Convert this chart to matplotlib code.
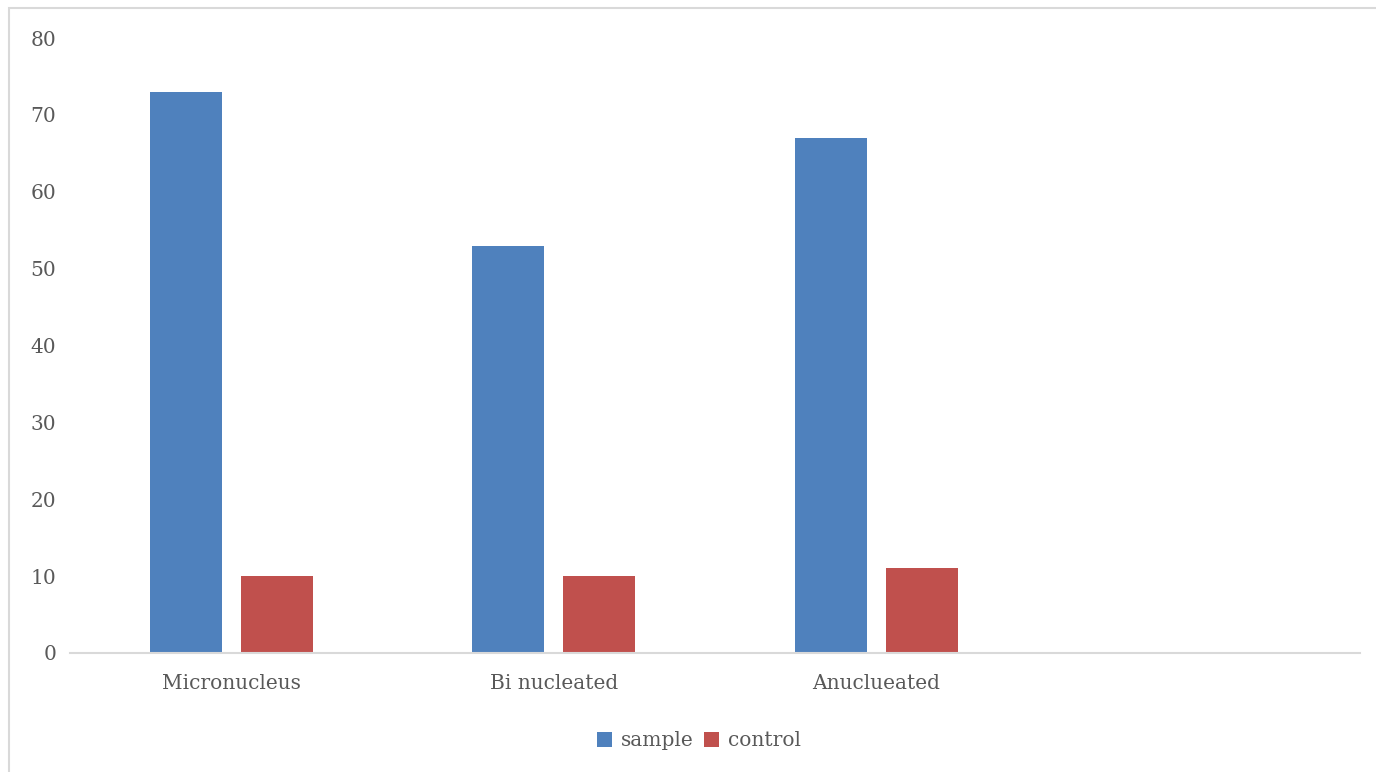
import numpy as np
import matplotlib.pyplot as plt
from matplotlib.patches import Rectangle

categories = ["Micronucleus", "Bi nucleated", "Anuclueated", ""]
sample = [73, 53, 67, np.nan]
control = [10, 10, 11, np.nan]

plt.rcParams["font.family"] = ["DejaVu Serif"]

fig = plt.figure(figsize=(13.76, 7.72), dpi=100)
ax = fig.add_axes([70 / 1376, 1 - 653 / 772, (1360 - 70) / 1376, (653 - 38) / 772])

x = np.arange(len(categories))
width = 0.224
offset = (width + 19 / 322.5) / 2
ax.bar(x - offset, sample, width, color="#4f81bd", label="sample")
ax.bar(x + offset, control, width, color="#c0504d", label="control")

ax.set_xlim(-0.5, len(categories) - 0.5)
ax.set_ylim(0, 80)
ax.set_yticks(range(0, 81, 10))
ax.set_xticks(x)
ax.set_xticklabels(categories)
ax.tick_params(axis="both", length=0, labelsize=14.5, colors="#595959")
ax.tick_params(axis="y", pad=10)
ax.tick_params(axis="x", pad=15)

for side in ["top", "right", "left"]:
    ax.spines[side].set_visible(False)
ax.spines["bottom"].set_color("#d9d9d9")
ax.spines["bottom"].set_linewidth(1.5)

leg = ax.legend(loc="center", bbox_to_anchor=(0.4876, -0.143), ncol=2, frameon=False,
                fontsize=14.5, handlelength=0.72, handleheight=0.72, handletextpad=0.45,
                columnspacing=0.55)
for t in leg.get_texts():
    t.set_color("#595959")

fig.patches.append(Rectangle((9 / 1376, -0.01), 1.02, 1 - 8 / 772 + 0.01,
                             transform=fig.transFigure, fill=False,
                             edgecolor="#d9d9d9", linewidth=1.5))

fig.savefig("out.png", dpi=100)
